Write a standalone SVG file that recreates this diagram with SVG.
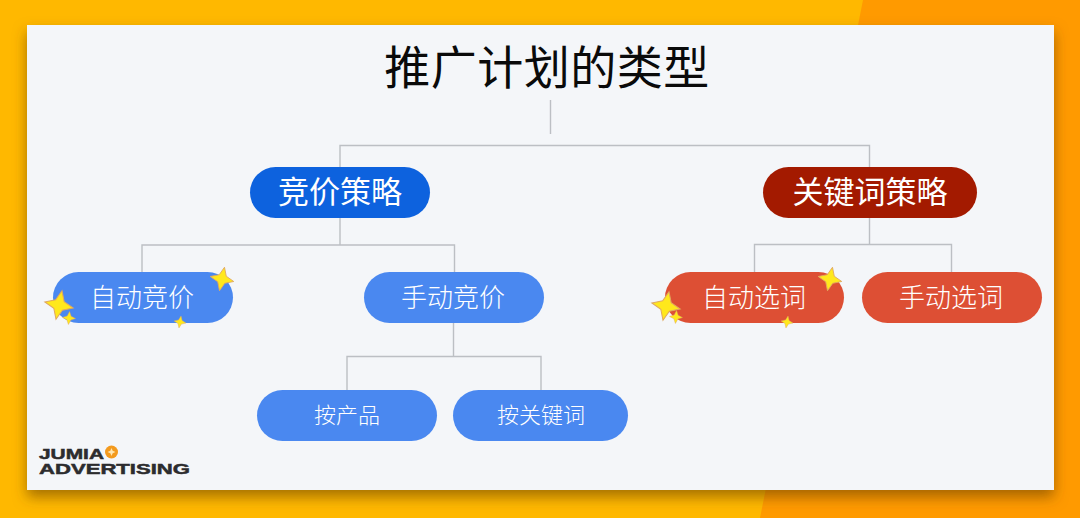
<svg xmlns="http://www.w3.org/2000/svg" width="1080" height="518" viewBox="0 0 1080 518">
<style>
text{font-family:"Noto Sans CJK SC","Noto Sans CJK JP",sans-serif;text-anchor:middle}
.w{fill:#fff}
.l1{font-size:31px}
.l2{font-size:26px;font-weight:300}
.l3{font-size:22px;font-weight:300}
.c{fill:none;stroke:#bcbfc4;stroke-width:1.4}
.star{fill:#ffe81c;stroke:#e0a860;stroke-width:.7}
.logo{font-family:"Liberation Sans",sans-serif;font-weight:700;fill:#2c2c2e;stroke:#2c2c2e;stroke-width:.5;text-anchor:start;font-size:15.500px}
</style>
<defs>
<filter id="sh" x="-5%" y="-8%" width="110%" height="120%"><feDropShadow dx="0" dy="7" stdDeviation="7" flood-color="#6b4200" flood-opacity=".6"/></filter>
<path id="s" d="M0-10 L3-3 10 0 3 3 0 10-3 3-10 0-3-3Z"/>
</defs>
<rect width="1080" height="518" fill="#ffb800"/>
<polygon points="863,0 1080,0 1080,518 760,518" fill="#ff9a00"/>
<rect x="27" y="25" width="1027" height="465" fill="#f4f6f9" filter="url(#sh)"/>
<text x="547" y="84" font-size="46" font-weight="400" fill="#0a0a0a" style="letter-spacing:.5px">推广计划的类型</text>
<g id="connectors" class="c">
<path class="c" d="M550.500 100V134"/>
<path class="c" d="M340 167V145.500H869.500V167"/>
<path class="c" d="M340 218V245M142 272V245H454.500V272"/>
<path class="c" d="M869.500 218V244.500M754.500 272V244.500H951.500V272"/>
<path class="c" d="M453.500 323V356.500M347 390V356.500H541V390"/>
</g>
<g id="n1"><rect x="250" y="167" width="180" height="51" rx="25.500" fill="#0d62de"/><text class="w l1" x="340" y="203">竞价策略</text></g>
<g id="n2"><rect x="763" y="167" width="214" height="51" rx="25.500" fill="#a31a00"/><text class="w l1" x="870" y="203">关键词策略</text></g>
<g id="n3"><rect x="53" y="272" width="180" height="51" rx="25.500" fill="#4a88f0"/><text class="w l2" x="142" y="307">自动竞价</text>
<use href="#s" class="star" transform="translate(222 279) rotate(12) scale(1.2)"/><use href="#s" class="star" transform="translate(59 305) rotate(12) scale(1.45)"/><use href="#s" class="star" transform="translate(69 318) rotate(5) scale(.65)"/><use href="#s" class="star" transform="translate(180 322) rotate(10) scale(.6)"/></g>
<g id="n4"><rect x="364" y="272" width="180" height="51" rx="25.500" fill="#4a88f0"/><text class="w l2" x="453" y="307">手动竞价</text></g>
<g id="n5"><rect x="665" y="272" width="179" height="51" rx="25.500" fill="#dd4f34"/><text class="w l2" x="754" y="307">自动选词</text>
<use href="#s" class="star" transform="translate(830 279) rotate(12) scale(1.2)"/><use href="#s" class="star" transform="translate(666 306) rotate(12) scale(1.45)"/><use href="#s" class="star" transform="translate(676 317) rotate(5) scale(.65)"/><use href="#s" class="star" transform="translate(787 322) rotate(10) scale(.6)"/></g>
<g id="n6"><rect x="862" y="272" width="180" height="51" rx="25.500" fill="#dd4f34"/><text class="w l2" x="951" y="307">手动选词</text></g>
<g id="n7"><rect x="257" y="390" width="180" height="51" rx="25.500" fill="#4a88f0"/><text class="w l3" x="347" y="423">按产品</text></g>
<g id="n8"><rect x="453" y="390" width="175" height="51" rx="25.500" fill="#4a88f0"/><text class="w l3" x="541" y="423">按关键词</text></g>
<g id="logo">
<text class="logo" x="39" y="458.500" textLength="65" lengthAdjust="spacingAndGlyphs">JUMIA</text>
<text class="logo" x="39" y="474" textLength="151" lengthAdjust="spacingAndGlyphs">ADVERTISING</text>
<circle cx="111.500" cy="452" r="6.500" fill="#f39a1e"/>
<use href="#s" fill="#ffe6b0" transform="translate(111.500 452) scale(.4)"/>
</g>
</svg>
